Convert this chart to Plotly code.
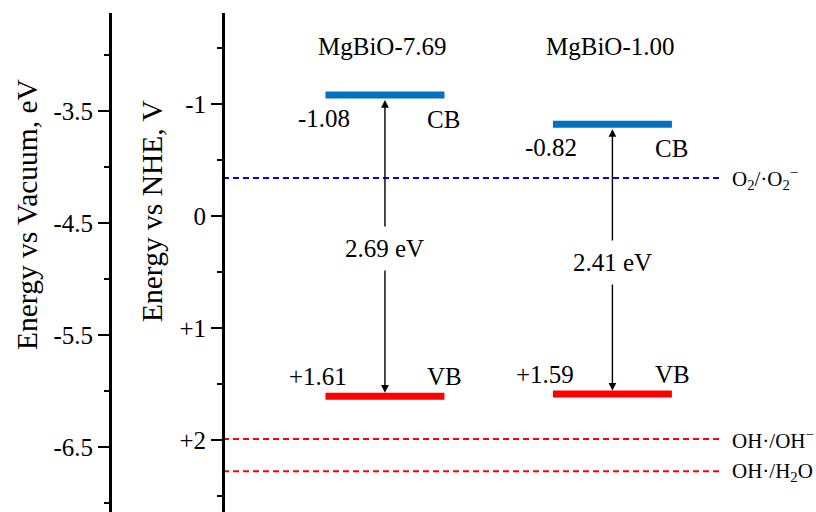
import plotly.graph_objects as go

# Band-edge data (potentials vs NHE, V)
samples = ["MgBiO-7.69", "MgBiO-1.00"]
cb_levels = [-1.08, -0.82]
vb_levels = [1.61, 1.59]
sample_pos = [1.0, 2.0]

# Redox reference potentials vs NHE, V
redox_labels = ["O<sub>2</sub>/·O<sub>2</sub><sup>−</sup>", "OH·/OH<sup>−</sup>", "OH·/H<sub>2</sub>O"]
redox_levels = [-0.34, 1.99, 2.28]
redox_colors = ["#0000ff", "#ff0000", "#ff0000"]

# Axis ticks
nhe_ticks = [-1, 0, 1, 2]
nhe_ticktext = ["-1", "0", "+1", "+2"]
vac_ticks = [-3.5, -4.5, -5.5, -6.5]
vac_ticktext = ["-3.5", "-4.5", "-5.5", "-6.5"]

FONT = "Liberation Serif"
HALF_W = 0.2615          # half length of a band bar (x units)
NHE_RANGE = [2.6429, -1.8125]
VAC_OFFSET = -4.4375     # vacuum level = offset - NHE
VAC_RANGE = [VAC_OFFSET - NHE_RANGE[0], VAC_OFFSET - NHE_RANGE[1]]
X_RANGE = [0.288, 2.895]
REDOX_END = 2.4725

W, H, ML, MT = 816, 512, 110, 13


def lf(size):
    return dict(family=FONT, size=size, color="black")


fig = go.Figure()

# Redox dashed reference lines
for lvl, col in zip(redox_levels, redox_colors):
    fig.add_trace(go.Scatter(
        x=[X_RANGE[0], REDOX_END], y=[lvl, lvl], mode="lines",
        line=dict(color=col, width=2, dash="6px,4px"),
        hoverinfo="skip", showlegend=False))

# Conduction and valence band bars
for xc, cb, vb in zip(sample_pos, cb_levels, vb_levels):
    fig.add_trace(go.Scatter(
        x=[xc - HALF_W, xc + HALF_W], y=[cb, cb], mode="lines",
        line=dict(color="#0070c0", width=7), hoverinfo="skip", showlegend=False))
    fig.add_trace(go.Scatter(
        x=[xc - HALF_W, xc + HALF_W], y=[vb, vb], mode="lines",
        line=dict(color="#ff0000", width=7), hoverinfo="skip", showlegend=False))

# Hidden trace carrying the vacuum-scale axis
fig.add_trace(go.Scatter(x=[X_RANGE[0]], y=[-4.5], yaxis="y2", mode="markers",
                         marker=dict(opacity=0), hoverinfo="skip", showlegend=False))

annotations = []
for name, xc, cb, vb in zip(samples, sample_pos, cb_levels, vb_levels):
    # double-headed arrow spanning the gap
    annotations.append(dict(
        x=xc, y=vb, ax=xc, ay=cb, xref="x", yref="y", axref="x", ayref="y",
        text="", showarrow=True, arrowside="end+start", arrowhead=2, startarrowhead=2,
        arrowsize=1.1, startarrowsize=1.1, arrowwidth=1.4, arrowcolor="black",
        standoff=3.5, startstandoff=3.5))
    annotations.append(dict(
        x=xc, y=(cb + vb) / 2, xref="x", yref="y", text=f"{vb - cb:.2f} eV",
        showarrow=False, font=lf(25), bgcolor="white", borderpad=8, yshift=-3))
    annotations.append(dict(
        x=xc - 0.012, y=1, xref="x", yref="paper", yanchor="middle", yshift=-33,
        text=name, showarrow=False, font=lf(25)))
    annotations.append(dict(
        x=xc, y=cb, xref="x", yref="y", xshift=-61, yshift=-23,
        text=f"{cb:.2f}", showarrow=False, font=lf(25)))
    annotations.append(dict(
        x=xc, y=cb, xref="x", yref="y", xshift=59, yshift=-24,
        text="CB", showarrow=False, font=lf(25)))
    annotations.append(dict(
        x=xc, y=vb, xref="x", yref="y", xshift=-67, yshift=20,
        text=f"+{vb:.2f}", showarrow=False, font=lf(25)))
    annotations.append(dict(
        x=xc, y=vb, xref="x", yref="y", xshift=60, yshift=20,
        text="VB", showarrow=False, font=lf(25)))

for lab, lvl in zip(redox_labels, redox_levels):
    annotations.append(dict(
        x=REDOX_END, y=lvl, xref="x", yref="y", xanchor="left", xshift=10, yshift=-1,
        text=lab, showarrow=False, font=lf(21)))

# Axis titles, placed in pixel terms and converted to paper coordinates
for text, px, py in [("Energy vs Vacuum, eV", 27, 215), ("Energy vs NHE, V", 152, 211)]:
    annotations.append(dict(
        x=(px - ML) / (W - ML), y=1 - (py - MT) / (H - MT), xref="paper", yref="paper",
        xanchor="center", yanchor="middle", text=text, textangle=-90,
        showarrow=False, font=lf(29.5)))


def axis_style():
    return dict(
        showline=True, linewidth=3, linecolor="black", showgrid=False, zeroline=False,
        ticks="outside", ticklen=11, tickwidth=2, tickcolor="black",
        tickfont=lf(25),
    )


fig.update_layout(
    width=W, height=H, margin=dict(l=ML, r=0, t=MT, b=0),
    paper_bgcolor="white", plot_bgcolor="white",
    font=dict(family=FONT, size=24, color="black"),
    xaxis=dict(range=X_RANGE, domain=[(223 - ML) / (W - ML), 1], visible=False),
    yaxis=dict(range=NHE_RANGE, anchor="free", position=(223 - ML) / (W - ML),
               tickvals=nhe_ticks, ticktext=nhe_ticktext,
               minor=dict(dtick=0.5, tick0=0.5, ticks="outside", ticklen=5, tickwidth=2,
                          tickcolor="black"),
               **axis_style()),
    yaxis2=dict(range=VAC_RANGE, overlaying="y", anchor="free", position=0, side="left",
                tickvals=vac_ticks, ticktext=vac_ticktext,
                minor=dict(dtick=1, tick0=-3, ticks="outside", ticklen=5, tickwidth=2,
                           tickcolor="black"),
                **axis_style()),
    annotations=annotations,
    showlegend=False,
)

fig.write_html("out.html")
